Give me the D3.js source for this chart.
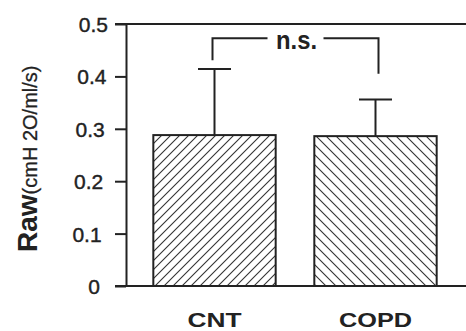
<!DOCTYPE html>
<html>
<head>
<meta charset="utf-8">
<script src="https://cdn.jsdelivr.net/npm/d3@7"></script>
<style>
  html, body { margin: 0; padding: 0; background: #fff; }
  svg { display: block; font-family: 'Liberation Sans', Arial, sans-serif; }
</style>
</head>
<body>
<svg id="chart" width="466" height="331"></svg>
<script>
// values
const groups = ['CNT', 'COPD']
const means = [0.288, 0.286]
const errors = [0.126, 0.070]
const hatches = ['fwd', 'back']
const yTicks = [0, 0.1, 0.2, 0.3, 0.4, 0.5]
// significance bracket: top of bracket, bottom of each leg (data units)
const bracketTop = 0.473
const bracketLegs = [0.431, 0.405]
const bracketLabel = 'n.s.'

const ink = '#222'
const width = 466, height = 331
const margin = {top: 24, right: 0, bottom: 45, left: 126}
const tickLen = 11

const svg = d3.select('#chart')

// hatch patterns
const defs = svg.append('defs')
function hatch(id, size, forward) {
  const p = defs.append('pattern')
    .attr('id', id)
    .attr('patternUnits', 'userSpaceOnUse')
    .attr('width', size)
    .attr('height', size)
  p.append('rect').attr('width', size).attr('height', size).attr('fill', '#fff')
  const d = forward
    ? `M0,${size} L${size},0 M${-size / 2},${size / 2} L${size / 2},${-size / 2} M${size / 2},${size * 1.5} L${size * 1.5},${size / 2}`
    : `M0,0 L${size},${size} M${-size / 2},${size / 2} L${size / 2},${size * 1.5} M${size / 2},${-size / 2} L${size * 1.5},${size / 2}`
  p.append('path').attr('d', d).attr('stroke', '#333').attr('stroke-width', 1.1)
}
hatch('fwd', 9, true)
hatch('back', 10, false)

const y = d3.scaleLinear()
  .domain([0, 0.5])
  .range([height - margin.bottom, margin.top])

const x = d3.scaleBand()
  .domain(groups)
  .range([134, 456])
  .paddingInner(0.24)
  .paddingOuter(0.12)

// y axis
const yAxis = svg.append('g')
  .attr('transform', `translate(${margin.left},0)`)
  .call(d3.axisLeft(y)
    .tickValues(yTicks)
    .tickSize(tickLen)
    .tickSizeOuter(0)
    .tickPadding(11)
    .tickFormat(d => d === 0 ? '0' : d.toFixed(1)))
yAxis.attr('font-size', null).attr('font-family', null)
yAxis.select('.domain').attr('stroke', ink).attr('stroke-width', 2)
yAxis.selectAll('.tick line').attr('stroke', ink).attr('stroke-width', 2)
yAxis.selectAll('.tick text')
  .attr('fill', ink)
  .attr('stroke', ink)
  .attr('stroke-width', 0.4)
  .style('font-size', '21px')
  .attr('dy', '0.36em')
  .attr('dx', d => (d - 0.25) * 16)

// top frame line (continues the 0.5 tick) and baseline
const frame = svg.append('g')
frame.append('line')
  .attr('x1', margin.left - tickLen).attr('x2', width)
  .attr('y1', y(0.5)).attr('y2', y(0.5))
  .attr('stroke', ink).attr('stroke-width', 2)
frame.append('line')
  .attr('x1', margin.left - tickLen).attr('x2', width)
  .attr('y1', y(0)).attr('y2', y(0))
  .attr('stroke', ink).attr('stroke-width', 2)

// bars
svg.append('g')
  .selectAll('rect')
  .data(groups)
  .join('rect')
  .attr('x', d => x(d))
  .attr('width', x.bandwidth())
  .attr('y', (d, i) => y(means[i]))
  .attr('height', (d, i) => y(0) - y(means[i]))
  .attr('fill', (d, i) => `url(#${hatches[i]})`)
  .attr('stroke', ink)
  .attr('stroke-width', 2)

// error bars (upper only)
const err = svg.append('g').attr('stroke', ink).attr('stroke-width', 2)
groups.forEach((g, i) => {
  const cx = x(g) + x.bandwidth() / 2
  err.append('line')
    .attr('x1', cx).attr('x2', cx)
    .attr('y1', y(means[i])).attr('y2', y(means[i] + errors[i]))
  err.append('line')
    .attr('x1', cx - 16.5).attr('x2', cx + 16.5)
    .attr('y1', y(means[i] + errors[i])).attr('y2', y(means[i] + errors[i]))
})

// significance bracket
const lx = x(groups[0]) + x.bandwidth() / 2 - 2
const rx = x(groups[1]) + x.bandwidth() / 2 + 3
const mid = (lx + rx) / 2
const gap = 28
const br = svg.append('g')
br.append('path')
  .attr('d', `M${lx},${y(bracketLegs[0])} V${y(bracketTop)} H${mid - gap}`)
  .attr('fill', 'none').attr('stroke', ink).attr('stroke-width', 2)
br.append('path')
  .attr('d', `M${mid + gap},${y(bracketTop)} H${rx} V${y(bracketLegs[1])}`)
  .attr('fill', 'none').attr('stroke', ink).attr('stroke-width', 2)
br.append('text')
  .attr('x', mid + 1)
  .attr('y', y(bracketTop) + 11)
  .attr('text-anchor', 'middle')
  .style('font-size', '25px')
  .attr('font-weight', 'bold')
  .attr('textLength', 41)
  .attr('lengthAdjust', 'spacingAndGlyphs')
  .attr('fill', ink)
  .text(bracketLabel)

// category labels
svg.append('g')
  .selectAll('text')
  .data(groups)
  .join('text')
  .attr('x', d => x(d) + x.bandwidth() / 2)
  .attr('y', 327)
  .attr('text-anchor', 'middle')
  .style('font-size', '21px')
  .attr('font-weight', 'bold')
  .attr('fill', ink)
  .attr('textLength', d => d === 'CNT' ? 54 : 73)
  .attr('lengthAdjust', 'spacingAndGlyphs')
  .text(d => d)

// y axis title
const title = svg.append('text')
  .attr('transform', 'translate(37,252) rotate(-90)')
  .attr('fill', ink)
title.append('tspan')
  .style('font-size', '28px')
  .attr('font-weight', 'bold')
  .text('Raw')
title.append('tspan')
  .style('font-size', '20px')
  .attr('stroke', ink)
  .attr('stroke-width', 0.3)
  .text('(cmH 2O/ml/s)')
</script>
</body>
</html>
